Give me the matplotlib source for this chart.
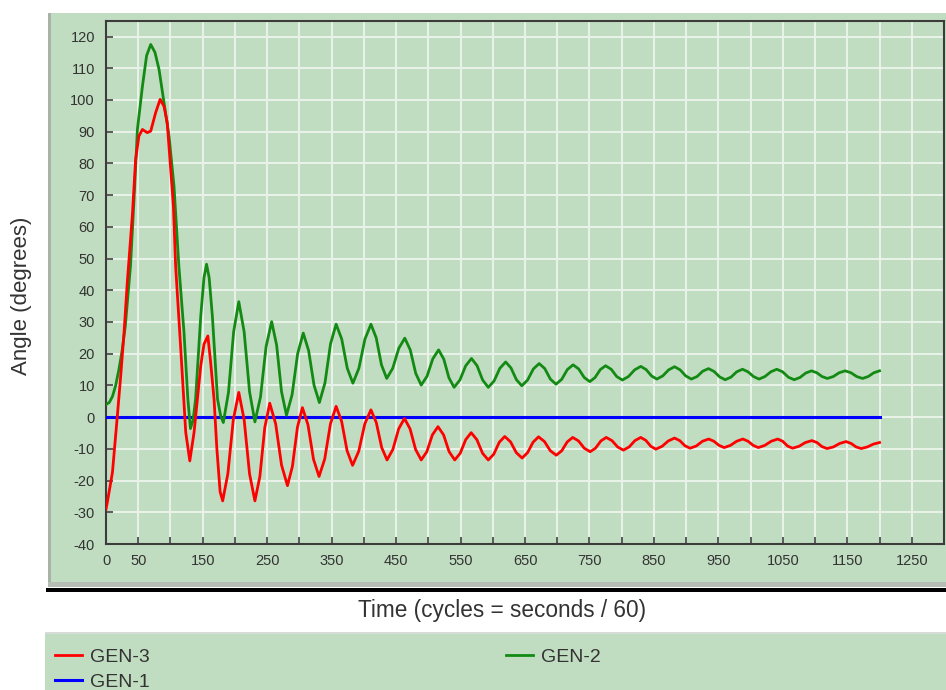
import matplotlib
matplotlib.use("Agg")
import matplotlib.pyplot as plt
from matplotlib.patches import Rectangle

# Daten: Zeit in Zyklen, Winkel in Grad
gen3_t = [0, 2, 10, 17.6, 22.8, 28, 33, 41, 46, 51, 56.5, 64, 69.4, 77, 84, 90, 95, 100.4,
          104.6, 108, 116, 123.7, 130, 136.6, 147, 152, 158, 162, 167.6, 172, 177, 181,
          189, 197.5, 206, 214.3, 222.7, 231, 238.7, 246.3, 254, 263.2, 272.3, 281.5,
          289.2, 297, 304.7, 313.3, 321.9, 330.5, 339.3, 348.2, 357, 365.5, 374, 382.5,
          392, 401.5, 411, 419.3, 427.7, 436, 445, 454, 463, 471.7, 480.3, 489, 497.7,
          506.3, 515, 523.7, 532.3, 541, 549.5, 558, 566.5, 575.3, 584.2, 593, 601.5,
          610.1, 618.6, 627.6, 636.5, 645.5, 654, 662.5, 671, 680.2, 689.3, 698.5, 707,
          715.5, 724, 733, 742, 751, 759.3, 767.7, 776, 784.9, 793.7, 802.6, 811.6, 820.5,
          829.5, 837.3, 845.2, 853, 862.7, 872.3, 882, 890, 898, 906, 915.7, 925.3, 935,
          943, 951, 959, 968.7, 978.3, 988, 996, 1004, 1012, 1022, 1032, 1042, 1049.7,
          1057.3, 1065, 1075, 1085, 1095, 1102.9, 1110.7, 1118.6, 1128.4, 1138.2, 1148,
          1155.9, 1163.7, 1171.6, 1181, 1190.5, 1200]
gen3_deg = [-29, -26.9, -17.4, 0.4, 13, 26.7, 42.4, 64, 81.3, 88.6, 90.7, 89.7, 90.2, 96, 100.2,
            98, 92.8, 78.1, 66.5, 47.7, 21.4, -4.8, -13.8, -4.8, 16.2, 23, 25.6, 18, 5.7, -10,
            -23.5, -26.4, -17.9, -0.8, 7.8, -0.8, -17.9, -26.4, -18.7, -3.3, 4.4, -2.1, -15.1,
            -21.6, -15.5, -3.2, 3.0, -2.4, -13.3, -18.7, -13.2, -2.1, 3.4, -1.3, -10.6, -15.2,
            -10.8, -2.1, 2.3, -1.7, -9.6, -13.5, -10.2, -3.7, -0.4, -3.7, -10.2, -13.5, -10.9,
            -5.6, -3.0, -5.6, -10.9, -13.5, -11.4, -7.1, -4.9, -7.1, -11.4, -13.5, -11.7, -7.9,
            -6.1, -7.8, -11.2, -12.9, -11.2, -7.9, -6.2, -7.7, -10.6, -12.0, -10.6, -7.8, -6.4,
            -7.5, -9.8, -10.9, -9.8, -7.5, -6.4, -7.4, -9.4, -10.4, -9.4, -7.4, -6.4, -7.3,
            -9.2, -10.1, -9.2, -7.5, -6.6, -7.4, -9.0, -9.8, -9.1, -7.6, -6.9, -7.6, -8.9,
            -9.6, -8.9, -7.6, -6.9, -7.6, -8.9, -9.6, -8.9, -7.6, -6.9, -7.6, -9.1, -9.8,
            -9.2, -8.0, -7.4, -8.0, -9.3, -9.9, -9.4, -8.3, -7.7, -8.3, -9.4, -9.9, -9.4,
            -8.5, -8.0]

gen2_t = [0, 5, 10, 15, 20, 25, 30, 38, 43.5, 48.7, 56.5, 63, 69.4, 76, 82.3, 90, 97.8, 105.5,
          113, 121, 127, 131, 135, 139, 147, 152, 156, 160, 165, 173, 178, 182, 190, 198,
          206, 214.3, 222.7, 231, 239.7, 248.3, 257, 264.7, 272.3, 280, 288.7, 297.3, 306,
          314.3, 322.7, 331, 339.7, 348.3, 357, 365.7, 374.3, 383, 392.3, 401.7, 411, 419.2,
          427.3, 435.5, 444.8, 454.2, 463.5, 472, 480.5, 489, 498, 507, 516, 524, 532, 540,
          549, 558, 567, 575.7, 584.3, 593, 602, 611, 620, 628.3, 636.7, 645, 654, 663, 672,
          680.7, 689.3, 698, 706.9, 715.7, 724.6, 733.2, 741.9, 750.5, 758.7, 766.8, 775,
          783.7, 792.3, 801, 810.5, 820, 829.6, 837.9, 846.2, 854.5, 863.7, 872.8, 882, 890.7,
          899.3, 908, 916.9, 925.8, 934.7, 943.3, 951.9, 960.5, 969.5, 978.4, 987.4, 995.9,
          1004.5, 1013, 1022.2, 1031.4, 1040.6, 1049.6, 1058.5, 1067.5, 1076.5, 1085.5,
          1094.5, 1102.7, 1110.8, 1119, 1128.2, 1137.4, 1146.6, 1155.6, 1164.6, 1173.6,
          1182.4, 1191.2, 1200]
gen2_deg = [4.0, 4.6, 6.5, 10, 15, 21, 28.8, 47.7, 68.7, 90.7, 104.3, 114, 117.5, 115, 109.6,
            99.1, 88.6, 72.8, 47.7, 26.7, 5.7, -3.6, -1, 5.7, 31.9, 44, 48.2, 44, 31.9, 5.7,
            0.3, -1.7, 7.8, 26.9, 36.4, 26.9, 8.0, -1.5, 6.4, 22.2, 30.1, 22.7, 8.0, 0.6, 7.1,
            20.0, 26.5, 21.0, 10.1, 4.6, 10.8, 23.1, 29.3, 24.6, 15.4, 10.7, 15.4, 24.6, 29.3,
            25.0, 16.5, 12.2, 15.4, 21.7, 24.9, 21.2, 13.8, 10.1, 12.9, 18.4, 21.2, 18.3, 12.4,
            9.4, 11.7, 16.2, 18.5, 16.2, 11.7, 9.4, 11.4, 15.4, 17.4, 15.5, 11.8, 9.9, 11.7,
            15.2, 16.9, 15.3, 12.0, 10.4, 11.9, 15.0, 16.5, 15.2, 12.5, 11.2, 12.5, 15.0,
            16.2, 15.1, 12.8, 11.7, 12.8, 14.9, 16.0, 15.0, 13.0, 12.0, 13.0, 14.9, 15.9,
            14.9, 13.0, 12.0, 12.8, 14.5, 15.3, 14.4, 12.7, 11.8, 12.6, 14.3, 15.1, 14.3,
            12.8, 12.0, 12.8, 14.3, 15.1, 14.3, 12.6, 11.8, 12.5, 13.9, 14.6, 14.0, 12.8,
            12.2, 12.8, 14.0, 14.6, 14.0, 12.8, 12.2, 12.8, 14.0, 14.6]

gen1_t = [0, 1200]
gen1_deg = [0, 0]

x_ticks = list(range(0, 1301, 50))
x_labels = ["0", "50"] + [str(v) if (v - 150) % 100 == 0 else "" for v in x_ticks[2:]]
y_ticks = list(range(-40, 121, 10))

panel = "#c1ddc1"
txt = "#333333"

plt.rcParams["font.family"] = ["Liberation Sans", "DejaVu Sans"]
plt.rcParams["axes.unicode_minus"] = False

fig = plt.figure(figsize=(9.46, 6.9), dpi=100)
W, H = 946.0, 690.0

def fx(px):
    return px / W

def fy(py):
    return 1 - py / H

# Hintergrund-Panels
fig.add_artist(Rectangle((fx(48), fy(582)), fx(946 - 48), (582 - 13) / H,
                         transform=fig.transFigure, facecolor=panel, edgecolor="none", zorder=0))
fig.add_artist(Rectangle((fx(48), fy(582)), fx(3), (582 - 13) / H,
                         transform=fig.transFigure, facecolor="#a9b2a9", edgecolor="none", zorder=0))
fig.add_artist(Rectangle((fx(48), fy(587)), fx(946 - 48), 5 / H,
                         transform=fig.transFigure, facecolor="#b5bdb5", edgecolor="none", zorder=0))
fig.add_artist(Rectangle((fx(46), fy(592)), fx(946 - 46), 4 / H,
                         transform=fig.transFigure, facecolor="#000000", edgecolor="none", zorder=0))
fig.add_artist(Rectangle((fx(45), 0), fx(946 - 45), (690 - 632) / H,
                         transform=fig.transFigure, facecolor=panel, edgecolor="none", zorder=0))
fig.add_artist(Rectangle((fx(45), fy(634)), fx(946 - 45), 2 / H,
                         transform=fig.transFigure, facecolor="#d8dcd8", edgecolor="none", zorder=0))

ax = fig.add_axes([fx(106), fy(544), fx(944 - 106), (544 - 20.7) / H])
ax.set_facecolor(panel)

ax.plot(gen3_t, gen3_deg, color="#ff0000", lw=2.0, label="GEN-3", zorder=4,
        solid_joinstyle="round")
ax.plot(gen1_t, gen1_deg, color="#0000ff", lw=2.2, label="GEN-1", zorder=3)
ax.plot(gen2_t, gen2_deg, color="#138a13", lw=2.0, label="GEN-2", zorder=3,
        solid_joinstyle="round")

ax.set_xlim(0, 1300)
ax.set_ylim(-40, 125)
ax.set_xticks(x_ticks)
ax.set_xticklabels(x_labels)
ax.set_yticks(y_ticks)
ax.grid(True, color="#eaf3ea", lw=1.4, zorder=1)
ax.set_axisbelow(True)
ax.tick_params(direction="in", length=5, width=1.2, color="#404040",
               labelsize=10.5, labelcolor=txt)
ax.tick_params(axis="x", pad=7)
ax.tick_params(axis="y", pad=8)
for s in ax.spines.values():
    s.set_color("#3c3c3c")
    s.set_linewidth(1.5)

fig.text(fx(502), fy(610), "Time (cycles = seconds / 60)", ha="center", va="center",
         fontsize=16.3, color=txt)
fig.text(fx(22), fy(296), "Angle (degrees)", ha="center", va="center", rotation=90,
         fontsize=16, color=txt)

handles, labels = ax.get_legend_handles_labels()
fig.legend(handles, labels, ncol=2, loc="upper left", bbox_to_anchor=(fx(55), fy(648)),
           frameon=False, fontsize=14, labelcolor=txt, handlelength=1.4,
           handletextpad=0.41, columnspacing=18.3, labelspacing=0.4, borderpad=0,
           borderaxespad=0)

fig.savefig("out.png", dpi=100)
